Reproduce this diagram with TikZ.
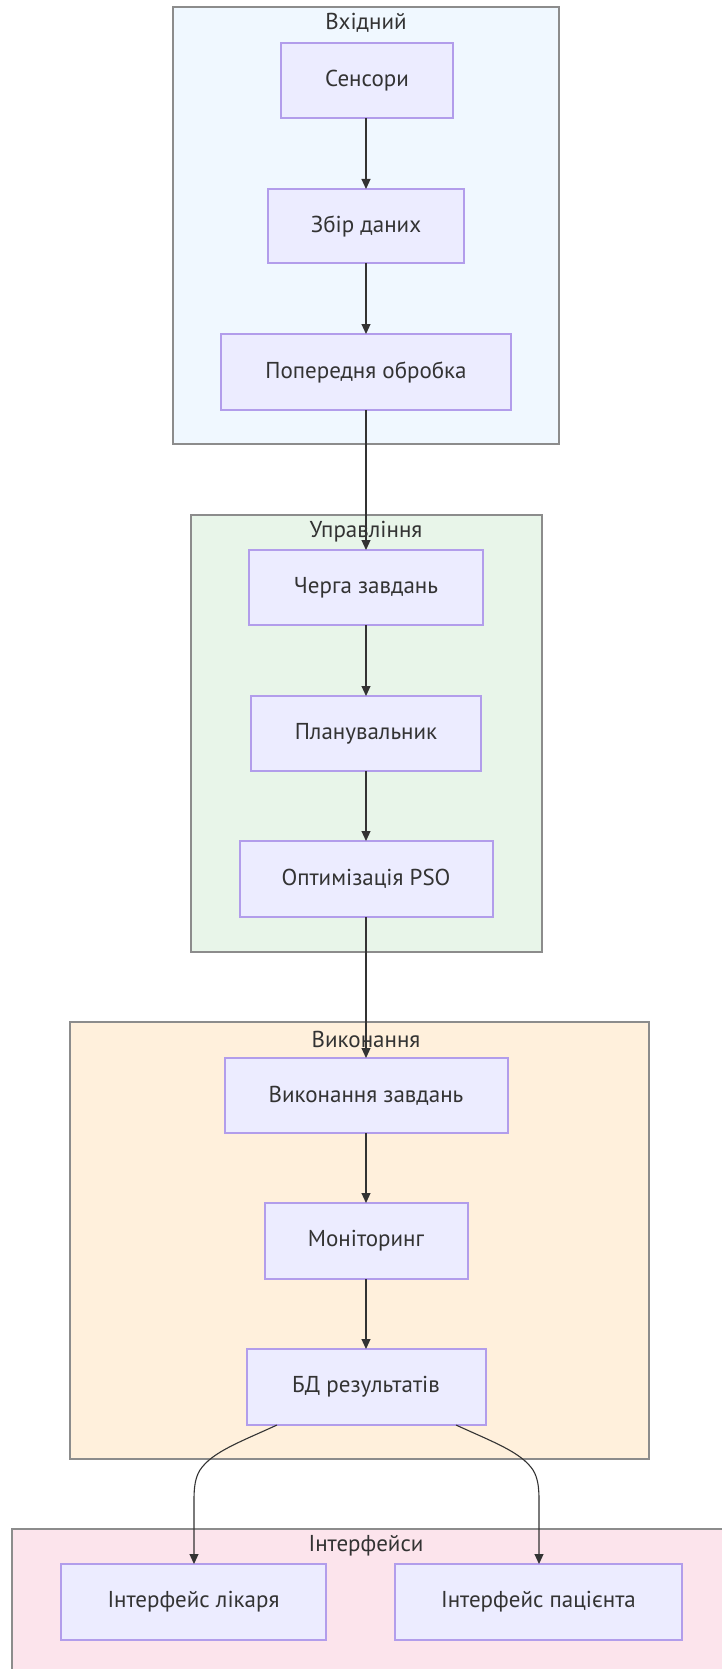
\documentclass[tikz,border=0pt]{standalone}
\usepackage{fontspec}
\setmainfont{PT Sans}
\usetikzlibrary{arrows.meta}
\definecolor{nodefill}{HTML}{ECECFF}
\definecolor{nodedraw}{HTML}{B29DEB}
\definecolor{txt}{HTML}{333333}
\definecolor{sgdraw}{HTML}{8C8C8C}
\definecolor{sgA}{HTML}{F0F8FF}
\definecolor{sgB}{HTML}{E8F5E9}
\definecolor{sgC}{HTML}{FFF0DC}
\definecolor{sgD}{HTML}{FCE4EC}
\tikzset{
  box/.style={draw=nodedraw, fill=nodefill, line width=1.3pt},
  lbl/.style={text=txt, font=\fontsize{23}{26}\selectfont},
  sgbox/.style={draw=sgdraw, line width=1.4pt},
  sgtitle/.style={text=txt, font=\fontsize{23}{26}\selectfont, anchor=center},
  arr/.style={draw=txt, line width=1.1pt, -{Triangle[length=10pt,width=9pt]}}
}
\begin{document}
\begin{tikzpicture}[x=1pt,y=-1pt]
\useasboundingbox (0,0) rectangle (721,1669);
% subgraphs
\draw[sgbox, fill=sgA] (173,7) rectangle (559,444);
\node[sgtitle] (tA) at (366,23) {Вхідний};
\draw[sgbox, fill=sgB] (191,515) rectangle (542,952);
\node[sgtitle] (tB) at (366,532) {Управління};
\draw[sgbox, fill=sgC] (70,1022) rectangle (649,1459);
\node[sgtitle] (tC) at (366,1039) {Виконання};
\draw[sgbox, fill=sgD] (12,1529) rectangle (740,1690);
\node[sgtitle] (tD) at (366,1546) {Інтерфейси};
% nodes
\path[box] (281,43) rectangle (453,118);
\node[lbl] (n1) at (367,80.5) {Сенсори};
\coordinate (n1b) at (366,118);
\path[box] (268,189) rectangle (464,263);
\node[lbl] (n2) at (366,226) {Збір даних};
\coordinate (n2t) at (366,189); \coordinate (n2b) at (366,263);
\path[box] (221,334) rectangle (511,410);
\node[lbl] (n3) at (366,372) {Попередня обробка};
\coordinate (n3t) at (366,334); \coordinate (n3b) at (366,410);
\path[box] (249,550) rectangle (483,625);
\node[lbl] (n4) at (366,587.5) {Черга завдань};
\coordinate (n4t) at (366,550); \coordinate (n4b) at (366,625);
\path[box] (251,696) rectangle (481,771);
\node[lbl] (n5) at (366,733.5) {Планувальник};
\coordinate (n5t) at (366,696); \coordinate (n5b) at (366,771);
\path[box] (240,841) rectangle (493,917);
\node[lbl] (n6) at (366,879) {Оптимізація PSO};
\coordinate (n6t) at (366,841); \coordinate (n6b) at (366,917);
\path[box] (225,1058) rectangle (508,1133);
\node[lbl] (n7) at (366,1095.5) {Виконання завдань};
\coordinate (n7t) at (366,1058); \coordinate (n7b) at (366,1133);
\path[box] (265,1203) rectangle (468,1279);
\node[lbl] (n8) at (366,1241) {Моніторинг};
\coordinate (n8t) at (366,1203); \coordinate (n8b) at (366,1279);
\path[box] (247,1349) rectangle (486,1425);
\node[lbl] (n9) at (366,1387) {БД результатів};
\coordinate (n9t) at (366,1349);
\coordinate (n9l) at (277,1425); \coordinate (n9r) at (456,1425);
\path[box] (61,1564) rectangle (326,1640);
\node[lbl] (n10) at (193.5,1602) {Інтерфейс лікаря};
\coordinate (n10t) at (194,1564);
\path[box] (395,1564) rectangle (682,1640);
\node[lbl] (n11) at (538.5,1602) {Інтерфейс пацієнта};
\coordinate (n11t) at (539,1564);
% connectors
\draw[arr] (n1b) -- (n2t);
\draw[arr] (n2b) -- (n3t);
\draw[arr] (n3b) -- (n4t);
\draw[arr] (n4b) -- (n5t);
\draw[arr] (n5b) -- (n6t);
\draw[arr] (n6b) -- (n7t);
\draw[arr] (n7b) -- (n8t);
\draw[arr] (n8b) -- (n9t);
\draw[arr] (n9l) .. controls (240,1442) and (212,1452) .. (200,1470) .. controls (195,1478) and (194,1488) .. (194,1500) -- (n10t);
\draw[arr] (n9r) .. controls (493,1442) and (521,1452) .. (533,1470) .. controls (538,1478) and (539,1488) .. (539,1500) -- (n11t);
\end{tikzpicture}
\end{document}
